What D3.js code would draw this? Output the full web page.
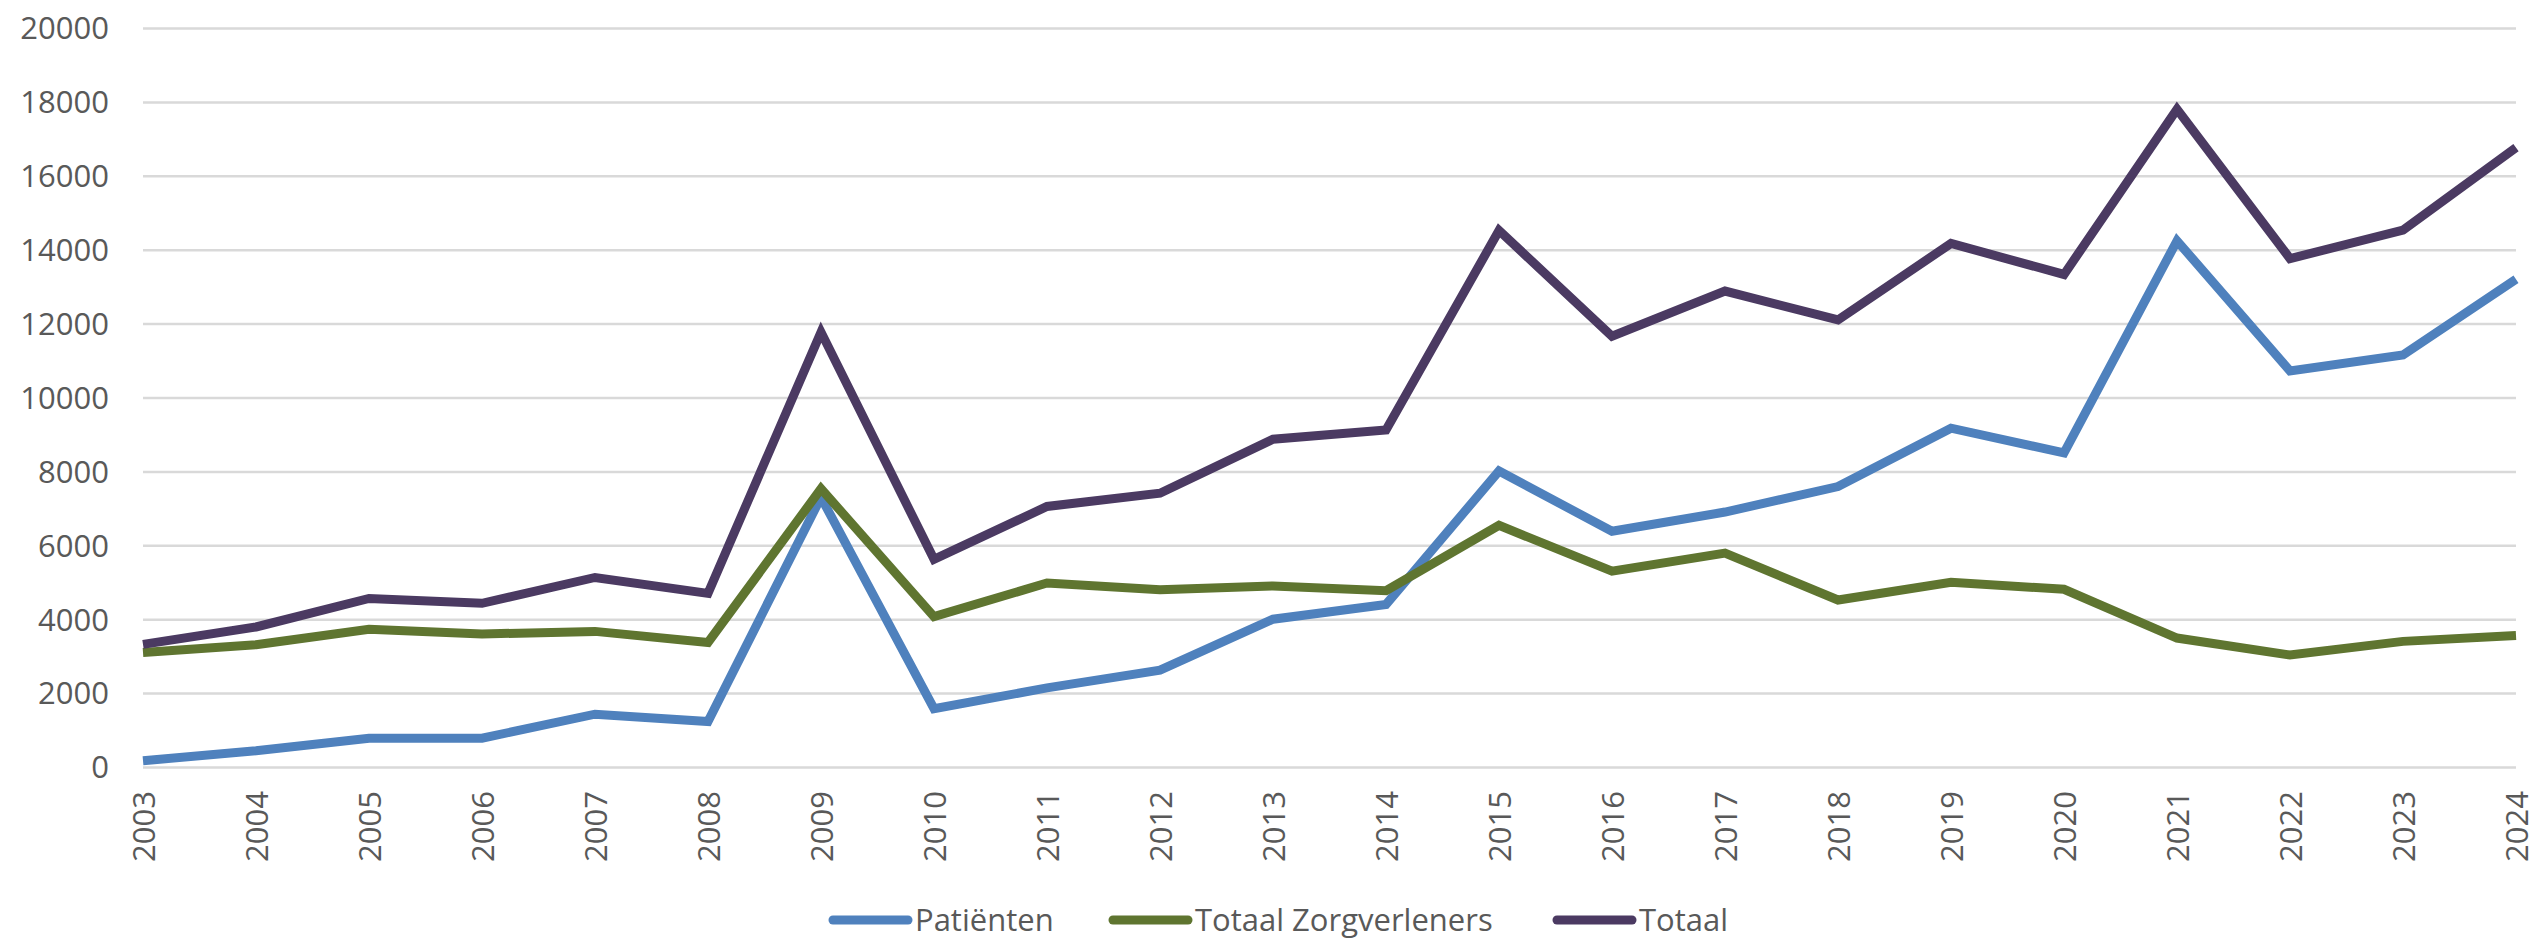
<!DOCTYPE html>
<html>
<head>
<meta charset="utf-8">
<script src="https://cdn.jsdelivr.net/npm/d3@7"></script>
<style>
    html, body { margin: 0; padding: 0; background: #fff; }
    svg text { font-family: "Open Sans", sans-serif; fill: #595959; }
</style>
</head>
<body>
<svg width="2537" height="941"></svg>
<script>
var years = [2003, 2004, 2005, 2006, 2007, 2008, 2009, 2010, 2011, 2012, 2013,
             2014, 2015, 2016, 2017, 2018, 2019, 2020, 2021, 2022, 2023, 2024];
var patienten = [170, 440, 780, 780, 1430, 1230, 7300, 1580, 2140, 2620, 4000,
                 4400, 8010, 6380, 6900, 7590, 9170, 8500, 14240, 10720, 11150, 13200];
var zorgverleners = [3100, 3310, 3730, 3600, 3670, 3370, 7530, 4070, 4980, 4800, 4900,
                     4770, 6540, 5300, 5790, 4520, 5000, 4810, 3490, 3030, 3400, 3560];
var totaal = [3320, 3790, 4560, 4430, 5130, 4700, 11770, 5620, 7050, 7410, 8870,
              9120, 14520, 11660, 12880, 12100, 14170, 13330, 17800, 13760, 14530, 16760];
var yTicks = [0, 2000, 4000, 6000, 8000, 10000, 12000, 14000, 16000, 18000, 20000];
var seriesNames = ['Patiënten', 'Totaal Zorgverleners', 'Totaal'];
var seriesColors = ['#4f81bd', '#5f7530', '#4b3a62'];

(function () {
    var series = [patienten, zorgverleners, totaal].map(function (vals, i) {
        return { name: seriesNames[i], color: seriesColors[i], values: vals };
    });

    var svg = d3.select('svg');
    var plotLeft = 143, plotRight = 2516, plotTop = 28, plotBottom = 767;

    var x = d3.scalePoint().domain(years).range([plotLeft, plotRight]);
    var y = d3.scaleLinear().domain([0, 20000]).range([plotBottom, plotTop]);

    // gridlines + y labels
    var yAxis = svg.append('g')
        .attr('transform', 'translate(' + plotLeft + ',0)')
        .call(d3.axisLeft(y).tickValues(yTicks).tickSize(-(plotRight - plotLeft)).tickPadding(34).tickFormat(d3.format('d')));
    yAxis.select('.domain').remove();
    yAxis.selectAll('line').attr('stroke', '#d9d9d9').attr('stroke-width', 2.5);
    yAxis.selectAll('text').style('font-size', '31px').attr('dy', '0.35em');

    // x labels, rotated
    var xAxis = svg.append('g')
        .attr('transform', 'translate(0,' + plotBottom + ')')
        .call(d3.axisBottom(x).tickSize(0).tickFormat(d3.format('d')));
    xAxis.select('.domain').remove();
    xAxis.selectAll('text')
        .style('font-size', '31px')
        .attr('text-anchor', 'end')
        .attr('transform', 'rotate(-90)')
        .attr('x', -24)
        .attr('y', 0)
        .attr('dy', '0.36em');

    var line = d3.line()
        .x(function (d, i) { return x(years[i]); })
        .y(function (d) { return y(d); });

    svg.append('g').selectAll('path')
        .data(series)
        .enter().append('path')
        .attr('d', function (d) { return line(d.values); })
        .attr('fill', 'none')
        .attr('stroke', function (d) { return d.color; })
        .attr('stroke-width', 9)
        .attr('stroke-linejoin', 'miter');

    // legend
    var legendX = [829, 1109, 1553];
    var legend = svg.append('g').selectAll('g')
        .data(series)
        .enter().append('g')
        .attr('transform', function (d, i) { return 'translate(' + legendX[i] + ',920)'; });
    legend.append('line')
        .attr('x1', 4).attr('x2', 79)
        .attr('stroke', function (d) { return d.color; })
        .attr('stroke-width', 9)
        .attr('stroke-linecap', 'round');
    legend.append('text')
        .attr('x', 86)
        .attr('dy', '0.36em')
        .style('font-size', '31px')
        .text(function (d) { return d.name; });
})();
</script>
</body>
</html>
